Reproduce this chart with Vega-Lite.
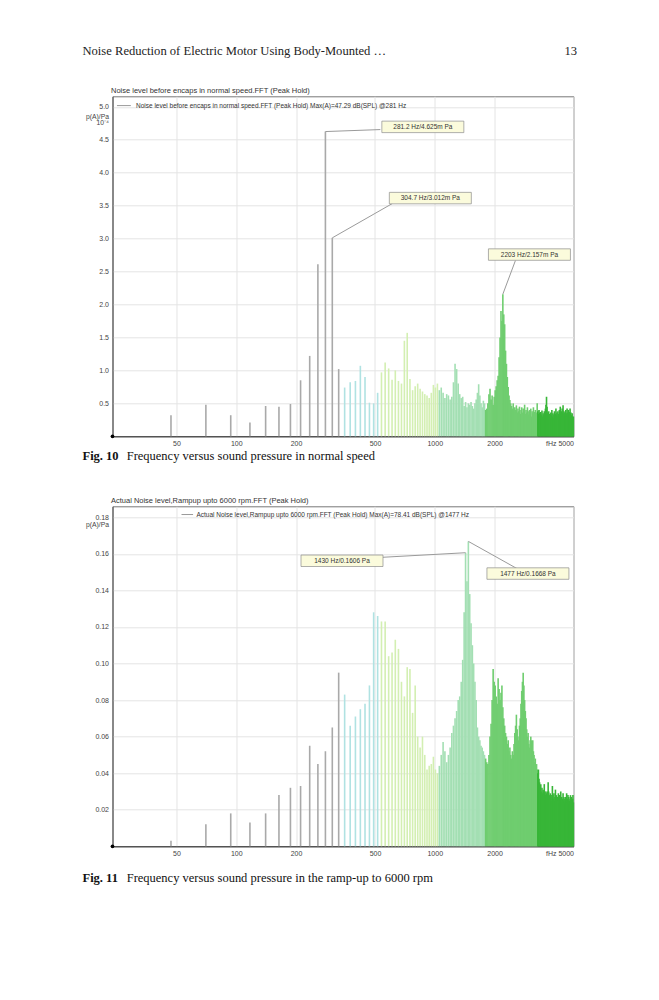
{
  "$schema": "https://vega.github.io/schema/vega-lite/v6.json",
  "description": "Two FFT peak-hold spectra (book page, Fig. 10 and Fig. 11)",
  "background": "white",
  "padding": {"left": 82.5, "top": 6.3, "right": 5, "bottom": 5},
  "spacing": 0,
  "bounds": "flush",
  "config": {
    "view": {"stroke": "#777", "strokeWidth": 1},
    "font": "Liberation Sans",
    "axis": {"labelFont": "Liberation Sans", "labelFontSize": 7, "labelColor": "#444", "ticks": false, "gridColor": "#e4e4e4", "gridWidth": 1, "domainColor": "#555", "titleFont": "Liberation Sans", "titleFontWeight": "normal", "titleColor": "#444"},
    "title": {"font": "Liberation Sans", "fontSize": 7.5, "fontWeight": "normal", "color": "#333", "anchor": "start", "offset": 1.5, "frame": "group", "dx": -1.5}
  },
  "datasets": {
    "normal": [
      {"f":46.9,"p":0.32},{"f":70.3,"p":0.48},{"f":93.8,"p":0.32},{"f":117.2,"p":0.21},{"f":140.6,"p":0.46},
      {"f":164.1,"p":0.45},{"f":187.5,"p":0.49},{"f":210.9,"p":0.85},{"f":234.4,"p":1.22},{"f":257.8,"p":2.61},
      {"f":281.3,"p":4.625},{"f":304.7,"p":3.012},{"f":328.1,"p":1.02},{"f":351.6,"p":0.74},{"f":375,"p":0.82},
      {"f":398.4,"p":0.84},{"f":421.9,"p":1.07},{"f":445.3,"p":0.9},{"f":468.8,"p":0.51},{"f":492.2,"p":0.5},
      {"f":515.6,"p":0.66},{"f":539.1,"p":0.97},{"f":562.5,"p":1.12},{"f":585.9,"p":1.03},{"f":609.4,"p":0.86},
      {"f":632.8,"p":1.0},{"f":656.3,"p":0.84},{"f":679.7,"p":0.8},{"f":703.1,"p":1.45},{"f":726.6,"p":1.57},
      {"f":750,"p":0.87},{"f":773.4,"p":0.7},{"f":796.9,"p":0.76},{"f":820.3,"p":0.8},{"f":843.8,"p":0.72},
      {"f":867.2,"p":0.68},{"f":890.6,"p":0.64},{"f":914.1,"p":0.62},{"f":937.5,"p":0.58},{"f":960.9,"p":0.66},
      {"f":984.4,"p":0.78},{"f":1007.8,"p":0.74},{"f":1031.3,"p":0.8},{"f":1054.7,"p":0.7},{"f":1078.1,"p":0.74},
      {"f":1101.6,"p":0.66},{"f":1125,"p":0.58},{"f":1148.4,"p":0.64},{"f":1171.9,"p":0.62},{"f":1195.3,"p":0.56},
      {"f":1218.8,"p":0.6},{"f":1242.2,"p":0.82},{"f":1265.6,"p":1.1},{"f":1289.1,"p":1.02},{"f":1312.5,"p":0.8},
      {"f":1335.9,"p":0.64},{"f":1359.4,"p":0.58},{"f":1382.8,"p":0.6},{"f":1406.3,"p":0.46},{"f":1429.7,"p":0.52},
      {"f":1453.1,"p":0.44},{"f":1476.6,"p":0.5},{"f":1500,"p":0.48},{"f":1523.4,"p":0.52},{"f":1546.9,"p":0.46},
      {"f":1570.3,"p":0.42},{"f":1593.8,"p":0.5},{"f":1617.2,"p":0.56},{"f":1640.6,"p":0.66},{"f":1664.1,"p":0.79},
      {"f":1687.5,"p":0.62},{"f":1710.9,"p":0.5},{"f":1734.4,"p":0.44},{"f":1757.8,"p":0.54},{"f":1781.3,"p":0.5},
      {"f":1804.7,"p":0.4},{"f":1828.1,"p":0.42},{"f":1851.6,"p":0.5},{"f":1875,"p":0.64},{"f":1898.4,"p":0.72},
      {"f":1921.9,"p":0.56},{"f":1945.3,"p":0.62},{"f":1968.8,"p":0.48},{"f":1992.2,"p":0.6},{"f":2015.6,"p":0.7},
      {"f":2039.1,"p":0.76},{"f":2062.5,"p":0.85},{"f":2085.9,"p":0.92},{"f":2109.4,"p":1.2},{"f":2132.8,"p":1.5},
      {"f":2156.3,"p":1.9},{"f":2179.7,"p":1.75},{"f":2203.1,"p":2.157},{"f":2226.6,"p":1.85},{"f":2250,"p":1.7},
      {"f":2273.4,"p":1.3},{"f":2296.9,"p":1.1},{"f":2320.3,"p":0.9},{"f":2343.8,"p":0.75},{"f":2367.2,"p":0.62},
      {"f":2390.6,"p":0.55},{"f":2414.1,"p":0.5},{"f":2437.5,"p":0.46},{"f":2460.9,"p":0.42},{"f":2484.4,"p":0.5},
      {"f":2507.8,"p":0.38},{"f":2531.3,"p":0.44},{"f":2554.7,"p":0.4},{"f":2578.1,"p":0.47},{"f":2601.6,"p":0.36},
      {"f":2625,"p":0.42},{"f":2648.4,"p":0.38},{"f":2671.9,"p":0.45},{"f":2695.3,"p":0.34},{"f":2718.8,"p":0.4},
      {"f":2742.2,"p":0.44},{"f":2765.6,"p":0.36},{"f":2789.1,"p":0.42},{"f":2812.5,"p":0.38},{"f":2835.9,"p":0.48},
      {"f":2859.4,"p":0.34},{"f":2882.8,"p":0.4},{"f":2906.3,"p":0.36},{"f":2929.7,"p":0.44},{"f":2953.1,"p":0.38},
      {"f":2976.6,"p":0.33},{"f":3000,"p":0.4},{"f":3023.4,"p":0.36},{"f":3046.9,"p":0.42},{"f":3070.3,"p":0.3},
      {"f":3093.8,"p":0.38},{"f":3117.2,"p":0.35},{"f":3140.6,"p":0.44},{"f":3164.1,"p":0.32},{"f":3187.5,"p":0.37},
      {"f":3210.9,"p":0.4},{"f":3234.4,"p":0.33},{"f":3257.8,"p":0.36},{"f":3281.3,"p":0.5},{"f":3304.7,"p":0.38},
      {"f":3328.1,"p":0.34},{"f":3351.6,"p":0.4},{"f":3375,"p":0.36},{"f":3398.4,"p":0.3},{"f":3421.9,"p":0.37},
      {"f":3445.3,"p":0.33},{"f":3468.8,"p":0.39},{"f":3492.2,"p":0.3},{"f":3515.6,"p":0.35},{"f":3539.1,"p":0.32},
      {"f":3562.5,"p":0.38},{"f":3585.9,"p":0.34},{"f":3609.4,"p":0.42},{"f":3632.8,"p":0.48},{"f":3656.3,"p":0.6},
      {"f":3679.7,"p":0.45},{"f":3703.1,"p":0.36},{"f":3726.6,"p":0.32},{"f":3750,"p":0.38},{"f":3773.4,"p":0.3},
      {"f":3796.9,"p":0.34},{"f":3820.3,"p":0.28},{"f":3843.8,"p":0.36},{"f":3867.2,"p":0.32},{"f":3890.6,"p":0.4},
      {"f":3914.1,"p":0.3},{"f":3937.5,"p":0.35},{"f":3960.9,"p":0.28},{"f":3984.4,"p":0.33},{"f":4007.8,"p":0.38},
      {"f":4031.3,"p":0.3},{"f":4054.7,"p":0.34},{"f":4078.1,"p":0.42},{"f":4101.6,"p":0.32},{"f":4125,"p":0.36},
      {"f":4148.4,"p":0.3},{"f":4171.9,"p":0.38},{"f":4195.3,"p":0.34},{"f":4218.8,"p":0.3},{"f":4242.2,"p":0.4},
      {"f":4265.6,"p":0.35},{"f":4289.1,"p":0.45},{"f":4312.5,"p":0.33},{"f":4335.9,"p":0.38},{"f":4359.4,"p":0.3},
      {"f":4382.8,"p":0.42},{"f":4406.3,"p":0.36},{"f":4429.7,"p":0.47},{"f":4453.1,"p":0.34},{"f":4476.6,"p":0.38},
      {"f":4500,"p":0.3},{"f":4523.4,"p":0.36},{"f":4546.9,"p":0.32},{"f":4570.3,"p":0.4},{"f":4593.8,"p":0.35},
      {"f":4617.2,"p":0.3},{"f":4640.6,"p":0.42},{"f":4664.1,"p":0.36},{"f":4687.5,"p":0.33},{"f":4710.9,"p":0.4},
      {"f":4734.4,"p":0.3},{"f":4757.8,"p":0.37},{"f":4781.3,"p":0.34},{"f":4804.7,"p":0.42},{"f":4828.1,"p":0.3},
      {"f":4851.6,"p":0.36},{"f":4875,"p":0.32},{"f":4898.4,"p":0.28},{"f":4921.9,"p":0.35},{"f":4945.3,"p":0.3},
      {"f":4968.8,"p":0.26},{"f":4992.2,"p":0.3}
    ],
    "rampup": [
      {"f":46.9,"p":0.003},{"f":70.3,"p":0.012},{"f":93.8,"p":0.018},{"f":117.2,"p":0.013},{"f":140.6,"p":0.018},
      {"f":164.1,"p":0.028},{"f":187.5,"p":0.032},{"f":210.9,"p":0.033},{"f":234.4,"p":0.055},{"f":257.8,"p":0.045},
      {"f":281.3,"p":0.052},{"f":304.7,"p":0.065},{"f":328.1,"p":0.095},{"f":351.6,"p":0.083},{"f":375,"p":0.066},
      {"f":398.4,"p":0.071},{"f":421.9,"p":0.075},{"f":445.3,"p":0.078},{"f":468.8,"p":0.088},{"f":492.2,"p":0.128},
      {"f":515.6,"p":0.126},{"f":539.1,"p":0.123},{"f":562.5,"p":0.123},{"f":585.9,"p":0.104},{"f":609.4,"p":0.106},
      {"f":632.8,"p":0.113},{"f":656.3,"p":0.108},{"f":679.7,"p":0.09},{"f":703.1,"p":0.082},{"f":726.6,"p":0.098},
      {"f":750,"p":0.097},{"f":773.4,"p":0.073},{"f":796.9,"p":0.088},{"f":820.3,"p":0.06},{"f":843.8,"p":0.054},
      {"f":867.2,"p":0.06},{"f":890.6,"p":0.05},{"f":914.1,"p":0.042},{"f":937.5,"p":0.044},{"f":960.9,"p":0.045},
      {"f":984.4,"p":0.049},{"f":1007.8,"p":0.042},{"f":1031.3,"p":0.04},{"f":1054.7,"p":0.044},{"f":1078.1,"p":0.05},
      {"f":1101.6,"p":0.057},{"f":1125,"p":0.052},{"f":1148.4,"p":0.046},{"f":1171.9,"p":0.05},{"f":1195.3,"p":0.054},
      {"f":1218.8,"p":0.062},{"f":1242.2,"p":0.066},{"f":1265.6,"p":0.07},{"f":1289.1,"p":0.074},{"f":1312.5,"p":0.08},
      {"f":1335.9,"p":0.082},{"f":1359.4,"p":0.09},{"f":1382.8,"p":0.102},{"f":1406.3,"p":0.128},{"f":1429.7,"p":0.1606},
      {"f":1453.1,"p":0.145},{"f":1476.6,"p":0.1668},{"f":1500,"p":0.138},{"f":1523.4,"p":0.122},{"f":1546.9,"p":0.11},
      {"f":1570.3,"p":0.1},{"f":1593.8,"p":0.09},{"f":1617.2,"p":0.08},{"f":1640.6,"p":0.065},{"f":1664.1,"p":0.06},
      {"f":1687.5,"p":0.058},{"f":1710.9,"p":0.055},{"f":1734.4,"p":0.054},{"f":1757.8,"p":0.052},{"f":1781.3,"p":0.05},
      {"f":1804.7,"p":0.048},{"f":1828.1,"p":0.046},{"f":1851.6,"p":0.045},{"f":1875,"p":0.05},{"f":1898.4,"p":0.06},
      {"f":1921.9,"p":0.067},{"f":1945.3,"p":0.08},{"f":1968.8,"p":0.097},{"f":1992.2,"p":0.09},{"f":2015.6,"p":0.088},
      {"f":2039.1,"p":0.082},{"f":2062.5,"p":0.078},{"f":2085.9,"p":0.092},{"f":2109.4,"p":0.086},{"f":2132.8,"p":0.08},
      {"f":2156.3,"p":0.084},{"f":2179.7,"p":0.088},{"f":2203.1,"p":0.076},{"f":2226.6,"p":0.07},{"f":2250,"p":0.066},
      {"f":2273.4,"p":0.062},{"f":2296.9,"p":0.06},{"f":2320.3,"p":0.056},{"f":2343.8,"p":0.058},{"f":2367.2,"p":0.052},
      {"f":2390.6,"p":0.054},{"f":2414.1,"p":0.05},{"f":2437.5,"p":0.048},{"f":2460.9,"p":0.052},{"f":2484.4,"p":0.05},
      {"f":2507.8,"p":0.056},{"f":2531.3,"p":0.062},{"f":2554.7,"p":0.066},{"f":2578.1,"p":0.072},{"f":2601.6,"p":0.064},
      {"f":2625,"p":0.06},{"f":2648.4,"p":0.058},{"f":2671.9,"p":0.066},{"f":2695.3,"p":0.07},{"f":2718.8,"p":0.078},
      {"f":2742.2,"p":0.085},{"f":2765.6,"p":0.09},{"f":2789.1,"p":0.095},{"f":2812.5,"p":0.088},{"f":2835.9,"p":0.08},
      {"f":2859.4,"p":0.074},{"f":2882.8,"p":0.07},{"f":2906.3,"p":0.064},{"f":2929.7,"p":0.06},{"f":2953.1,"p":0.062},
      {"f":2976.6,"p":0.056},{"f":3000,"p":0.054},{"f":3023.4,"p":0.058},{"f":3046.9,"p":0.06},{"f":3070.3,"p":0.058},
      {"f":3093.8,"p":0.055},{"f":3117.2,"p":0.058},{"f":3140.6,"p":0.052},{"f":3164.1,"p":0.05},{"f":3187.5,"p":0.046},
      {"f":3210.9,"p":0.048},{"f":3234.4,"p":0.044},{"f":3257.8,"p":0.045},{"f":3281.3,"p":0.042},{"f":3304.7,"p":0.04},
      {"f":3328.1,"p":0.042},{"f":3351.6,"p":0.037},{"f":3375,"p":0.035},{"f":3398.4,"p":0.033},{"f":3421.9,"p":0.034},
      {"f":3445.3,"p":0.03},{"f":3468.8,"p":0.032},{"f":3492.2,"p":0.029},{"f":3515.6,"p":0.031},{"f":3539.1,"p":0.03},
      {"f":3562.5,"p":0.034},{"f":3585.9,"p":0.03},{"f":3609.4,"p":0.028},{"f":3632.8,"p":0.03},{"f":3656.3,"p":0.029},
      {"f":3679.7,"p":0.027},{"f":3703.1,"p":0.03},{"f":3726.6,"p":0.035},{"f":3750,"p":0.03},{"f":3773.4,"p":0.028},
      {"f":3796.9,"p":0.026},{"f":3820.3,"p":0.029},{"f":3843.8,"p":0.027},{"f":3867.2,"p":0.025},{"f":3890.6,"p":0.028},
      {"f":3914.1,"p":0.033},{"f":3937.5,"p":0.028},{"f":3960.9,"p":0.026},{"f":3984.4,"p":0.029},{"f":4007.8,"p":0.025},
      {"f":4031.3,"p":0.027},{"f":4054.7,"p":0.031},{"f":4078.1,"p":0.026},{"f":4101.6,"p":0.028},{"f":4125,"p":0.024},
      {"f":4148.4,"p":0.027},{"f":4171.9,"p":0.025},{"f":4195.3,"p":0.029},{"f":4218.8,"p":0.026},{"f":4242.2,"p":0.024},
      {"f":4265.6,"p":0.028},{"f":4289.1,"p":0.026},{"f":4312.5,"p":0.03},{"f":4335.9,"p":0.025},{"f":4359.4,"p":0.027},
      {"f":4382.8,"p":0.024},{"f":4406.3,"p":0.026},{"f":4429.7,"p":0.029},{"f":4453.1,"p":0.025},{"f":4476.6,"p":0.027},
      {"f":4500,"p":0.024},{"f":4523.4,"p":0.026},{"f":4546.9,"p":0.023},{"f":4570.3,"p":0.027},{"f":4593.8,"p":0.025},
      {"f":4617.2,"p":0.029},{"f":4640.6,"p":0.024},{"f":4664.1,"p":0.026},{"f":4687.5,"p":0.028},{"f":4710.9,"p":0.024},
      {"f":4734.4,"p":0.027},{"f":4757.8,"p":0.025},{"f":4781.3,"p":0.023},{"f":4804.7,"p":0.026},{"f":4828.1,"p":0.028},
      {"f":4851.6,"p":0.024},{"f":4875,"p":0.027},{"f":4898.4,"p":0.025},{"f":4921.9,"p":0.022},{"f":4945.3,"p":0.026},
      {"f":4968.8,"p":0.028},{"f":4992.2,"p":0.024}
    ],
    "notes1": [
      {"label": "281.2 Hz/4.625m Pa", "f": 281.3, "p": 4.625, "lf": 532, "lp": 4.655, "bf": 871, "bp": 4.696},
      {"label": "304.7 Hz/3.012m Pa", "f": 304.7, "p": 3.012, "lf": 611, "lp": 3.532, "bf": 950, "bp": 3.615},
      {"label": "2203 Hz/2.157m Pa", "f": 2203.1, "p": 2.157, "lf": 2549, "lp": 2.667, "bf": 2999, "bp": 2.758}
    ],
    "notes2": [
      {"label": "1430 Hz/0.1606 Pa", "f": 1429.7, "p": 0.1606, "lf": 544, "lp": 0.1581, "bf": 341, "bp": 0.1562},
      {"label": "1477 Hz/0.1668 Pa", "f": 1476.6, "p": 0.1668, "lf": 2599, "lp": 0.1519, "bf": 2947, "bp": 0.1492}
    ],
    "key1": [
      {"key": "Noise level before encaps in normal speed.FFT (Peak Hold) Max(A)=47.29 dB(SPL) @281 Hz", "f": 25.07, "f2": 29.44, "ft": 31.27, "p": 5.019}
    ],
    "key2": [
      {"key": "Actual Noise level,Rampup upto 6000 rpm.FFT (Peak Hold) Max(A)=78.41 dB(SPL) @1477 Hz", "f": 53.0, "f2": 60.6, "ft": 63.0, "p": 0.1815}
    ],
    "origin": [
      {"f": 23.8, "p": 0}
    ]
  },
  "vconcat": [
    {
      "width": 461,
      "height": 89.4,
      "view": {"stroke": null},
      "data": {"values": [
        {"txt": "Noise Reduction of Electric Motor Using Body-Mounted …", "side": 0},
        {"txt": "13", "side": 1}
      ]},
      "encoding": {
        "x": {"field": "side", "type": "quantitative", "scale": {"domain": [0, 1]}, "axis": null},
        "text": {"field": "txt"}
      },
      "layer": [
        {"transform": [{"filter": "datum.side == 0"}],
         "mark": {"type": "text", "align": "left", "baseline": "middle", "dx": -30, "font": "Liberation Serif", "fontSize": 12.6, "color": "#222"}},
        {"transform": [{"filter": "datum.side == 1"}],
         "mark": {"type": "text", "align": "right", "baseline": "middle", "dx": 3.5, "font": "Liberation Serif", "fontSize": 12.6, "color": "#222"}}
      ]
    },
    {
      "width": 461,
      "height": 340,
      "title": {"text": "Noise level before encaps in normal speed.FFT (Peak Hold)"},
      "encoding": {
        "x": {"field": "f", "type": "quantitative",
              "scale": {"type": "log", "domain": [23.8, 5000], "nice": false},
              "axis": {"values": [50, 100, 200, 500, 1000, 2000, 5000], "format": "d", "labelExpr": "datum.value >= 5000 ? 'fHz  5000' : datum.label", "labelFlush": true, "labelPadding": 3, "title": null, "domainColor": "#333", "grid": true}},
        "y": {"field": "p", "type": "quantitative",
              "scale": {"domain": [0, 5.16], "nice": false, "zero": true},
              "axis": {"values": [0.5, 1, 1.5, 2, 2.5, 3, 3.5, 4, 4.5, 5], "format": ".1f", "labelPadding": 4, "grid": true,
                       "title": ["p(A)/Pa", "10⁻⁴"], "titleColor": "#444", "titleAngle": 0, "titleAlign": "right", "titleBaseline": "middle", "titleX": -4, "titleY": 20, "titleFontSize": 6.8, "titleLineHeight": 6}}
      },
      "layer": [
        {
          "data": {"name": "normal"},
          "mark": {"type": "rule", "strokeWidth": 1.6},
          "encoding": {
            "y2": {"datum": 0},
            "color": {"field": "f", "type": "quantitative",
                      "scale": {"type": "threshold", "domain": [340, 530, 1050, 1800, 3300], "range": ["#a9a9a9", "#b0e2e2", "#d3efb2", "#a3dfb3", "#6fcd6f", "#38b638"]},
                      "legend": null}
          }
        },
        {
          "data": {"name": "notes1"},
          "mark": {"type": "rule", "strokeWidth": 1, "color": "#9a9a9a"},
          "encoding": {"x2": {"field": "lf"}, "y2": {"field": "lp"}}
        },
        {
          "data": {"name": "notes1"},
          "mark": {"type": "point", "shape": "M-1,-0.14H1V0.14H-1Z", "size": 6724, "filled": true, "fill": "#fbfbdc", "stroke": "#8c8c8c", "strokeWidth": 0.7, "opacity": 1},
          "encoding": {"x": {"field": "bf", "type": "quantitative"}, "y": {"field": "bp", "type": "quantitative"}}
        },
        {
          "data": {"name": "notes1"},
          "mark": {"type": "text", "fontSize": 6.5, "color": "#333", "font": "Liberation Sans", "baseline": "middle"},
          "encoding": {"x": {"field": "bf", "type": "quantitative"}, "y": {"field": "bp", "type": "quantitative"}, "text": {"field": "label"}}
        },
        {
          "data": {"name": "key1"},
          "mark": {"type": "rule", "strokeWidth": 1, "color": "#9a9a9a"},
          "encoding": {"x2": {"field": "f2"}}
        },
        {
          "data": {"name": "key1"},
          "mark": {"type": "text", "align": "left", "baseline": "middle", "fontSize": 6.5, "color": "#333", "font": "Liberation Sans"},
          "encoding": {"x": {"field": "ft", "type": "quantitative"}, "text": {"field": "key"}}
        },
        {
          "data": {"name": "origin"},
          "mark": {"type": "point", "filled": true, "color": "#000", "size": 14, "opacity": 1}
        }
      ]
    },
    {
      "width": 461,
      "height": 69.3,
      "view": {"stroke": null},
      "data": {"values": [{"fig": "Fig. 10", "txt": "Frequency versus sound pressure in normal speed"}]},
      "encoding": {"x": {"datum": 0, "type": "quantitative", "scale": {"domain": [0, 1]}, "axis": null}},
      "layer": [
        {"mark": {"type": "text", "align": "left", "baseline": "middle", "dx": -30, "dy": -14.45, "font": "Liberation Serif", "fontSize": 12.5, "fontWeight": "bold", "color": "#111"},
         "encoding": {"text": {"field": "fig"}}},
        {"mark": {"type": "text", "align": "left", "baseline": "middle", "dx": 14.2, "dy": -14.45, "font": "Liberation Serif", "fontSize": 12.5, "color": "#111"},
         "encoding": {"text": {"field": "txt"}}}
      ]
    },
    {
      "width": 461,
      "height": 340,
      "title": {"text": "Actual Noise level,Rampup upto 6000 rpm.FFT (Peak Hold)"},
      "encoding": {
        "x": {"field": "f", "type": "quantitative",
              "scale": {"type": "log", "domain": [23.8, 5000], "nice": false},
              "axis": {"values": [50, 100, 200, 500, 1000, 2000, 5000], "format": "d", "labelExpr": "datum.value >= 5000 ? 'fHz  5000' : datum.label", "labelFlush": true, "labelPadding": 3, "title": null, "domainColor": "#333", "grid": true}},
        "y": {"field": "p", "type": "quantitative",
              "scale": {"domain": [0, 0.186], "nice": false, "zero": true},
              "axis": {"values": [0.02, 0.04, 0.06, 0.08, 0.1, 0.12, 0.14, 0.16, 0.18], "format": ".2f", "labelPadding": 4, "grid": true,
                       "title": "p(A)/Pa", "titleColor": "#444", "titleAngle": 0, "titleAlign": "right", "titleBaseline": "middle", "titleX": -4, "titleY": 18.5, "titleFontSize": 6.8}}
      },
      "layer": [
        {
          "data": {"name": "rampup"},
          "mark": {"type": "rule", "strokeWidth": 1.6},
          "encoding": {
            "y2": {"datum": 0},
            "color": {"field": "f", "type": "quantitative",
                      "scale": {"type": "threshold", "domain": [340, 530, 1050, 1800, 3300], "range": ["#a9a9a9", "#b0e2e2", "#d3efb2", "#a3dfb3", "#6fcd6f", "#38b638"]},
                      "legend": null}
          }
        },
        {
          "data": {"name": "notes2"},
          "mark": {"type": "rule", "strokeWidth": 1, "color": "#9a9a9a"},
          "encoding": {"x2": {"field": "lf"}, "y2": {"field": "lp"}}
        },
        {
          "data": {"name": "notes2"},
          "mark": {"type": "point", "shape": "M-1,-0.14H1V0.14H-1Z", "size": 6724, "filled": true, "fill": "#fbfbdc", "stroke": "#8c8c8c", "strokeWidth": 0.7, "opacity": 1},
          "encoding": {"x": {"field": "bf", "type": "quantitative"}, "y": {"field": "bp", "type": "quantitative"}}
        },
        {
          "data": {"name": "notes2"},
          "mark": {"type": "text", "fontSize": 6.5, "color": "#333", "font": "Liberation Sans", "baseline": "middle"},
          "encoding": {"x": {"field": "bf", "type": "quantitative"}, "y": {"field": "bp", "type": "quantitative"}, "text": {"field": "label"}}
        },
        {
          "data": {"name": "key2"},
          "mark": {"type": "rule", "strokeWidth": 1, "color": "#9a9a9a"},
          "encoding": {"x2": {"field": "f2"}}
        },
        {
          "data": {"name": "key2"},
          "mark": {"type": "text", "align": "left", "baseline": "middle", "fontSize": 6.5, "color": "#333", "font": "Liberation Sans"},
          "encoding": {"x": {"field": "ft", "type": "quantitative"}, "text": {"field": "key"}}
        },
        {
          "data": {"name": "origin"},
          "mark": {"type": "point", "filled": true, "color": "#000", "size": 14, "opacity": 1}
        }
      ]
    },
    {
      "width": 461,
      "height": 64,
      "view": {"stroke": null},
      "data": {"values": [{"fig": "Fig. 11", "txt": "Frequency versus sound pressure in the ramp-up to 6000 rpm"}]},
      "encoding": {"x": {"datum": 0, "type": "quantitative", "scale": {"domain": [0, 1]}, "axis": null}},
      "layer": [
        {"mark": {"type": "text", "align": "left", "baseline": "middle", "dx": -30, "font": "Liberation Serif", "fontSize": 12.5, "fontWeight": "bold", "color": "#111"},
         "encoding": {"text": {"field": "fig"}}},
        {"mark": {"type": "text", "align": "left", "baseline": "middle", "dx": 14.2, "font": "Liberation Serif", "fontSize": 12.5, "color": "#111"},
         "encoding": {"text": {"field": "txt"}}}
      ]
    }
  ]
}
